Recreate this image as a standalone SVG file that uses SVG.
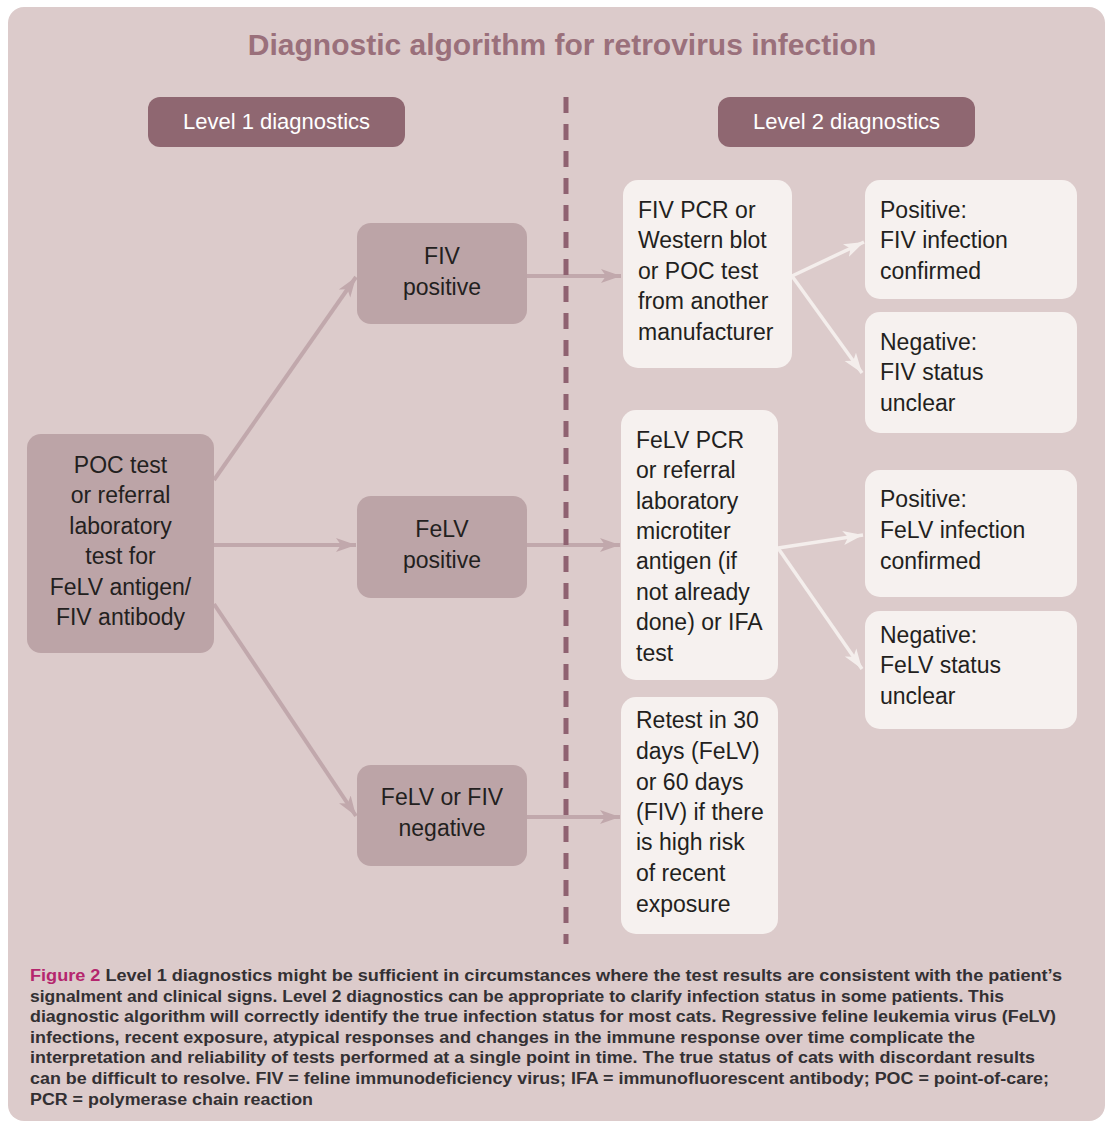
<svg xmlns="http://www.w3.org/2000/svg" width="1105" height="1124" viewBox="0 0 1105 1124">
<defs>
<style>
.t{font-family:"Liberation Sans",Arial,Helvetica,sans-serif;font-size:23px;fill:#231f20}
.c{text-anchor:middle}
.hdr{fill:#8f6771}
.hdrt{font-family:"Liberation Sans",Arial,sans-serif;font-size:22px;fill:#ffffff;text-anchor:middle}
.mid{fill:#bca4a7}
.lt{fill:#f6f1ef}
.ga{stroke:#c1a8ac;stroke-width:4;fill:none}
.wa{stroke:#f4eeec;stroke-width:3.5;fill:none}
.cap{font-family:"Liberation Sans Narrow","Liberation Sans",Arial,sans-serif;font-size:16px;font-weight:bold;fill:#333033}
</style>
<marker id="mg" markerUnits="userSpaceOnUse" markerWidth="22" markerHeight="16" viewBox="0 0 22 16" refX="20" refY="8" orient="auto">
<path d="M0,1 L20,8 L0,15 L5,8 z" fill="#c1a8ac"/>
</marker>
<marker id="mw" markerUnits="userSpaceOnUse" markerWidth="22" markerHeight="16" viewBox="0 0 22 16" refX="20" refY="8" orient="auto">
<path d="M0,1 L20,8 L0,15 L5,8 z" fill="#f4eeec"/>
</marker>
</defs>
<rect x="0" y="0" width="1105" height="1124" fill="#ffffff"/>
<rect id="panel" x="8" y="7" width="1097" height="1114" rx="16" fill="#dccbcb"/>
<text id="title" x="562" y="55" font-family="Liberation Sans,Arial,sans-serif" font-size="30" font-weight="bold" fill="#9a707b" text-anchor="middle">Diagnostic algorithm for retrovirus infection</text>

<g id="level1">
<rect class="hdr" x="148" y="97" width="257" height="50" rx="12"/>
<text class="hdrt" x="276.5" y="129">Level 1 diagnostics</text>
</g>
<g id="level2">
<rect class="hdr" x="718" y="97" width="257" height="50" rx="12"/>
<text class="hdrt" x="846.5" y="129">Level 2 diagnostics</text>
</g>

<g id="connectors">
<line class="ga" x1="214" y1="480" x2="356" y2="277" marker-end="url(#mg)"/>
<line class="ga" x1="214" y1="545" x2="356" y2="545" marker-end="url(#mg)"/>
<line class="ga" x1="214" y1="604" x2="356" y2="816" marker-end="url(#mg)"/>
<line class="ga" x1="527" y1="276" x2="621" y2="276" marker-end="url(#mg)"/>
<line class="ga" x1="527" y1="545" x2="620" y2="545" marker-end="url(#mg)"/>
<line class="ga" x1="527" y1="817" x2="620" y2="817" marker-end="url(#mg)"/>
<line class="wa" x1="792" y1="276" x2="864" y2="242" marker-end="url(#mw)"/>
<line class="wa" x1="792" y1="276" x2="862" y2="373" marker-end="url(#mw)"/>
<line class="wa" x1="778" y1="548" x2="863" y2="535" marker-end="url(#mw)"/>
<line class="wa" x1="778" y1="548" x2="862" y2="669" marker-end="url(#mw)"/>
</g>

<line id="divider" x1="566" y1="97" x2="566" y2="944" stroke="#8f6271" stroke-width="5" stroke-dasharray="16 11"/>

<g id="poc">
<rect class="mid" x="27" y="434" width="187" height="219" rx="14"/>
<text class="t c" x="120.5" y="473">POC test</text>
<text class="t c" x="120.5" y="503">or referral</text>
<text class="t c" x="120.5" y="534">laboratory</text>
<text class="t c" x="120.5" y="564">test for</text>
<text class="t c" x="120.5" y="595">FeLV antigen/</text>
<text class="t c" x="120.5" y="625">FIV antibody</text>
</g>
<g id="fivpos">
<rect class="mid" x="357" y="223" width="170" height="101" rx="14"/>
<text class="t c" x="442" y="264">FIV</text>
<text class="t c" x="442" y="295">positive</text>
</g>
<g id="felvpos">
<rect class="mid" x="357" y="496" width="170" height="102" rx="14"/>
<text class="t c" x="442" y="537">FeLV</text>
<text class="t c" x="442" y="568">positive</text>
</g>
<g id="neg">
<rect class="mid" x="357" y="765" width="170" height="101" rx="14"/>
<text class="t c" x="442" y="805">FeLV or FIV</text>
<text class="t c" x="442" y="836">negative</text>
</g>

<g id="fivpcr">
<rect class="lt" x="623" y="180" width="169" height="188" rx="15"/>
<text class="t" x="638" y="218">FIV PCR or</text>
<text class="t" x="638" y="248">Western blot</text>
<text class="t" x="638" y="279">or POC test</text>
<text class="t" x="638" y="309">from another</text>
<text class="t" x="638" y="340">manufacturer</text>
</g>
<g id="fivconf">
<rect class="lt" x="865" y="180" width="212" height="119" rx="15"/>
<text class="t" x="880" y="218">Positive:</text>
<text class="t" x="880" y="248">FIV infection</text>
<text class="t" x="880" y="279">confirmed</text>
</g>
<g id="fivunclear">
<rect class="lt" x="865" y="312" width="212" height="121" rx="15"/>
<text class="t" x="880" y="350">Negative:</text>
<text class="t" x="880" y="380">FIV status</text>
<text class="t" x="880" y="411">unclear</text>
</g>
<g id="felvpcr">
<rect class="lt" x="621" y="410" width="157" height="270" rx="15"/>
<text class="t" x="636" y="448">FeLV PCR</text>
<text class="t" x="636" y="478">or referral</text>
<text class="t" x="636" y="509">laboratory</text>
<text class="t" x="636" y="539">microtiter</text>
<text class="t" x="636" y="569">antigen (if</text>
<text class="t" x="636" y="600">not already</text>
<text class="t" x="636" y="630">done) or IFA</text>
<text class="t" x="636" y="661">test</text>
</g>
<g id="felvconf">
<rect class="lt" x="865" y="470" width="212" height="127" rx="15"/>
<text class="t" x="880" y="507">Positive:</text>
<text class="t" x="880" y="538">FeLV infection</text>
<text class="t" x="880" y="569">confirmed</text>
</g>
<g id="felvunclear">
<rect class="lt" x="865" y="611" width="212" height="118" rx="15"/>
<text class="t" x="880" y="643">Negative:</text>
<text class="t" x="880" y="673">FeLV status</text>
<text class="t" x="880" y="704">unclear</text>
</g>
<g id="retest">
<rect class="lt" x="621" y="697" width="157" height="237" rx="15"/>
<text class="t" x="636" y="728">Retest in 30</text>
<text class="t" x="636" y="759">days (FeLV)</text>
<text class="t" x="636" y="790">or 60 days</text>
<text class="t" x="636" y="820">(FIV) if there</text>
<text class="t" x="636" y="850">is high risk</text>
<text class="t" x="636" y="881">of recent</text>
<text class="t" x="636" y="912">exposure</text>
</g>

<g id="caption">
<text class="cap" x="30" y="981" textLength="1032" lengthAdjust="spacingAndGlyphs"><tspan fill="#b5266e">Figure 2</tspan>  Level 1 diagnostics might be sufficient in circumstances where the test results are consistent with the patient’s</text>
<text class="cap" x="30" y="1002" textLength="974" lengthAdjust="spacingAndGlyphs">signalment and clinical signs. Level 2 diagnostics can be appropriate to clarify infection status in some patients. This</text>
<text class="cap" x="30" y="1022" textLength="1026" lengthAdjust="spacingAndGlyphs">diagnostic algorithm will correctly identify the true infection status for most cats. Regressive feline leukemia virus (FeLV)</text>
<text class="cap" x="30" y="1043" textLength="945" lengthAdjust="spacingAndGlyphs">infections, recent exposure, atypical responses and changes in the immune response over time complicate the</text>
<text class="cap" x="30" y="1063" textLength="1005" lengthAdjust="spacingAndGlyphs">interpretation and reliability of tests performed at a single point in time. The true status of cats with discordant results</text>
<text class="cap" x="30" y="1084" textLength="1019" lengthAdjust="spacingAndGlyphs">can be difficult to resolve. FIV = feline immunodeficiency virus; IFA = immunofluorescent antibody; POC = point-of-care;</text>
<text class="cap" x="30" y="1105" textLength="283" lengthAdjust="spacingAndGlyphs">PCR = polymerase chain reaction</text>
</g>
</svg>
